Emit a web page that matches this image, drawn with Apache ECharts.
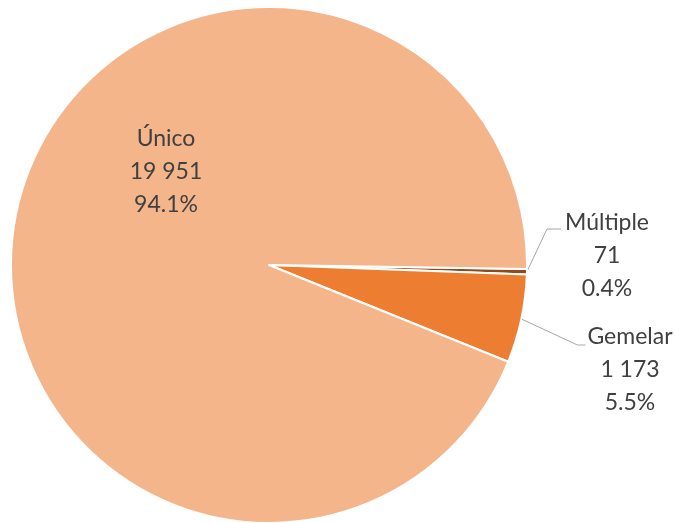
<!DOCTYPE html>
<html><head><meta charset="utf-8">
<script src="https://cdn.jsdelivr.net/npm/echarts@6/dist/echarts.min.js"></script>
<style>html,body{margin:0;padding:0;background:#fff}#c{width:675px;height:523px}</style>
</head><body><div id="c"></div>
<script>
// Data (clockwise order starting just below 3 o'clock)
const categories = ['Múltiple', 'Gemelar', 'Único'];
const values = [71, 1173, 19951];
const valueLabels = ['71', '1 173', '19 951'];
const percentLabels = ['0.4%', '5.5%', '94.1%'];

const colors = ['#8E4A1C', '#ED7D31', '#F4B58B'];
const labelAnchor = [[607, 256], [630, 370], [166, 172]];

const chart = echarts.init(document.getElementById('c'), null, { renderer: 'canvas' });

const data = categories.map((name, i) => ({
  name: name,
  value: values[i],
  itemStyle: { color: colors[i] },
  label: { position: i === 2 ? 'inside' : 'outside' },
  labelLine: { show: i !== 2 }
}));

chart.setOption({
  animation: false,
  backgroundColor: '#ffffff',
  series: [{
    type: 'pie',
    center: [269, 265],
    radius: [0, 258],
    startAngle: -0.9,
    clockwise: true,
    avoidLabelOverlap: false,
    minShowLabelAngle: 0,
    silent: true,
    itemStyle: { borderColor: '#ffffff', borderWidth: 2 },
    label: {
      show: true,
      fontFamily: 'Lato',
      fontSize: 23,
      lineHeight: 33,
      color: '#404040',
      align: 'center',
      formatter: p => p.name + '\n' + valueLabels[p.dataIndex] + '\n' + percentLabels[p.dataIndex]
    },
    labelLine: { show: true, lineStyle: { color: '#A6A6A6', width: 1 } },
    emphasis: { disabled: true },
    labelLayout: function (params) {
      const i = params.dataIndex;
      const x = labelAnchor[i][0], y = labelAnchor[i][1];
      const out = { x: x, y: y, align: 'center', verticalAlign: 'middle', hideOverlap: false };
      if (i !== 2 && params.labelLinePoints) {
        const p0 = params.labelLinePoints[0];
        const left = x - params.labelRect.width / 2;
        if (i === 0) {
          out.labelLinePoints = [[p0[0], p0[1]], [left - 18, y - 27], [left - 4, y - 27]];
        } else {
          out.labelLinePoints = [[p0[0], p0[1]], [left - 10, y - 25], [left - 2, y - 25]];
        }
      }
      return out;
    },
    data: data
  }]
});
</script>
</body></html>
